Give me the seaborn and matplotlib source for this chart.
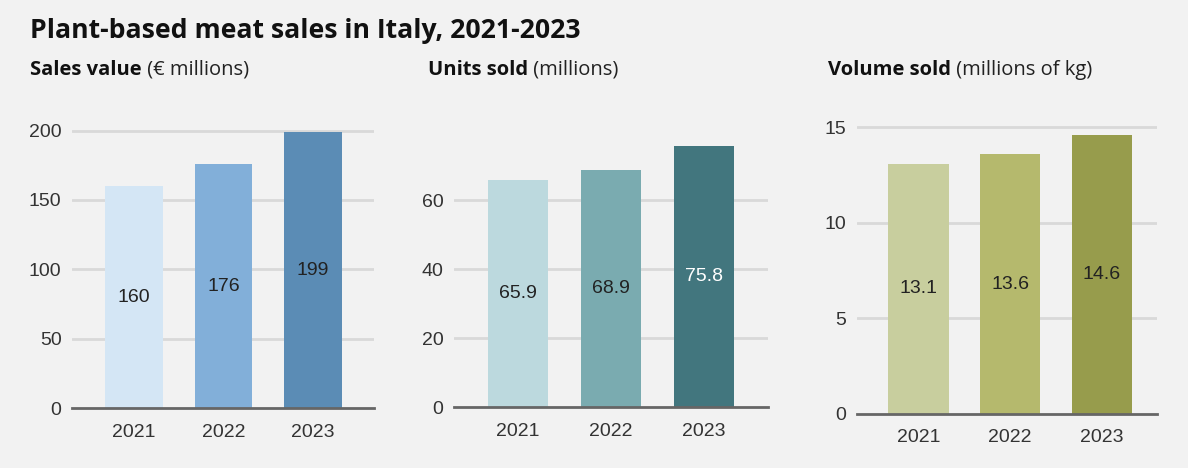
import matplotlib
matplotlib.use("Agg")
import matplotlib.pyplot as plt
import seaborn as sns
import pandas as pd

# --- data ---
years = ["2021", "2022", "2023"]
sales_value = [160, 176, 199]          # € millions
units_sold = [65.9, 68.9, 75.8]        # millions
volume_sold = [13.1, 13.6, 14.6]       # millions of kg

sales_colors = ["#d4e6f5", "#82afd9", "#5b8cb5"]
units_colors = ["#bcd9de", "#7aabb0", "#42767e"]
volume_colors = ["#c8ce9e", "#b5b96d", "#979c4c"]

sales_ticks = [0, 50, 100, 150, 200]
units_ticks = [0, 20, 40, 60]
volume_ticks = [0, 5, 10, 15]

title = "Plant-based meat sales in Italy, 2021-2023"

BG = "#f2f2f2"
sns.set_theme(style="white")
plt.rcParams["font.family"] = ["Liberation Sans", "DejaVu Sans"]
HEAD_FONT = ["Open Sans", "DejaVu Sans"]

fig = plt.figure(figsize=(11.88, 4.68), dpi=100)
fig.patch.set_facecolor(BG)

W, H = 1188, 468


def px_axes(x0, x1, y_top, y_bottom):
    return fig.add_axes([x0 / W, 1 - y_bottom / H, (x1 - x0) / W, (y_bottom - y_top) / H])


panels = [
    dict(vals=sales_value, colors=sales_colors, ticks=sales_ticks, ylim=204,
         box=(72, 374, 125.0, 408.3), xlim=(-0.69, 2.68), width=0.645, fmt="{:.0f}",
         head="Sales value", unit=" (€ millions)", hx=30, label_colors=["#222222"] * 3),
    dict(vals=units_sold, colors=units_colors, ticks=units_ticks, ylim=78,
         box=(454, 768, 138.2, 407.3), xlim=(-0.69, 2.69), width=0.645, fmt="{:.1f}",
         head="Units sold", unit=" (millions)", hx=428, label_colors=["#222222", "#222222", "#ffffff"]),
    dict(vals=volume_sold, colors=volume_colors, ticks=volume_ticks, ylim=15.3,
         box=(857, 1157, 121.6, 414.0), xlim=(-0.67, 2.6), width=0.655, fmt="{:.1f}",
         head="Volume sold", unit=" (millions of kg)", hx=828, label_colors=["#222222"] * 3),
]

for p in panels:
    x0, x1, yt, yb = p["box"]
    ax = px_axes(x0, x1, yt, yb)
    ax.set_facecolor(BG)
    df = pd.DataFrame({"year": years, "value": p["vals"]})
    sns.barplot(data=df, x="year", y="value", hue="year", palette=p["colors"],
                legend=False, width=p["width"], ax=ax, saturation=1, zorder=3,
                linewidth=0, edgecolor="none")
    ax.set_ylim(0, p["ylim"])
    ax.set_xlim(*p["xlim"])
    ax.set_yticks(p["ticks"])
    ax.set_xlabel("")
    ax.set_ylabel("")
    for t in p["ticks"][1:]:
        ax.axhline(t, color="#d9d9d9", lw=2, zorder=1)
    for s in ["top", "right", "left"]:
        ax.spines[s].set_visible(False)
    ax.spines["bottom"].set_color("#666666")
    ax.spines["bottom"].set_linewidth(2)
    ax.spines["bottom"].set_zorder(4)
    ax.tick_params(axis="both", length=0, labelsize=14, labelcolor="#333333")
    ax.tick_params(axis="y", pad=7.5)
    ax.tick_params(axis="x", pad=11)
    for i, (v, c) in enumerate(zip(p["vals"], p["label_colors"])):
        ax.text(i, v / 2, p["fmt"].format(v), ha="center", va="center",
                fontsize=14, color=c, zorder=5)
    # panel heading: bold metric name followed by its unit
    t1 = fig.text(p["hx"] / W, 1 - 70 / H, p["head"], fontsize=14.5, fontweight="bold",
                  family=HEAD_FONT, color="#111111", va="center")
    fig.canvas.draw()
    bb = t1.get_window_extent()
    fig.text(bb.x1 / W, 1 - 70 / H, p["unit"], fontsize=14.5,
             family=HEAD_FONT, color="#222222", va="center")

fig.text(30 / W, 1 - 31 / H, title, fontsize=19.2, fontweight="bold",
         family=HEAD_FONT, color="#111111", va="center")

fig.savefig("out.png", dpi=100, facecolor=BG)
